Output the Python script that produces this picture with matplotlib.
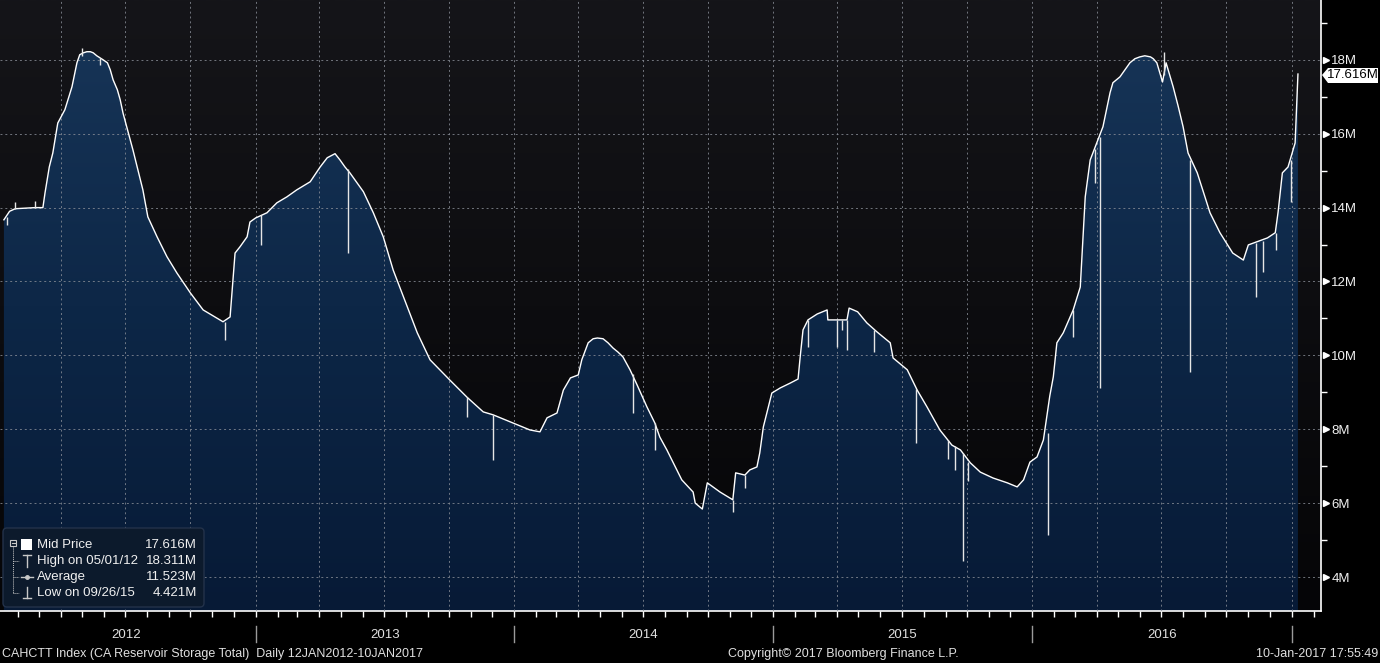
import matplotlib
matplotlib.use("Agg")
import matplotlib.pyplot as plt
import matplotlib.dates as mdates
import matplotlib.transforms as mtransforms
from matplotlib.colors import LinearSegmentedColormap
from matplotlib.patches import FancyBboxPatch, Polygon, Rectangle
from matplotlib.ticker import MultipleLocator, FuncFormatter
import numpy as np
import pandas as pd

# CA reservoir storage total (millions)
dates = [
    "2012-01-12", "2012-01-20", "2012-01-28", "2012-02-25", "2012-03-07", "2012-03-10",
    "2012-03-16", "2012-03-21", "2012-03-28", "2012-04-07", "2012-04-17", "2012-04-21",
    "2012-04-24", "2012-04-28", "2012-05-03", "2012-05-08", "2012-05-13", "2012-05-17",
    "2012-05-22", "2012-05-31", "2012-06-06", "2012-06-10", "2012-06-14", "2012-06-20",
    "2012-06-24", "2012-06-28", "2012-07-12", "2012-07-26", "2012-08-02", "2012-08-15",
    "2012-08-29", "2012-09-12", "2012-10-01", "2012-10-19", "2012-11-02", "2012-11-16",
    "2012-11-26", "2012-11-29", "2012-12-03", "2012-12-10", "2012-12-20", "2012-12-24",
    "2013-01-01", "2013-01-17", "2013-01-31", "2013-02-14", "2013-02-28", "2013-03-19",
    "2013-04-02", "2013-04-12", "2013-04-20", "2013-04-23", "2013-04-30", "2013-05-07",
    "2013-05-14", "2013-05-24", "2013-06-02", "2013-06-16", "2013-06-30", "2013-07-14",
    "2013-08-03", "2013-08-17", "2013-09-04", "2013-10-02", "2013-10-26", "2013-11-18",
    "2013-12-02", "2013-12-30", "2014-01-23", "2014-02-06", "2014-02-16", "2014-03-02",
    "2014-03-11", "2014-03-21", "2014-04-01", "2014-04-06", "2014-04-15", "2014-04-22",
    "2014-04-28", "2014-05-06", "2014-05-13", "2014-05-20", "2014-05-27", "2014-06-03",
    "2014-06-13", "2014-06-23", "2014-07-07", "2014-07-18", "2014-07-25", "2014-08-04",
    "2014-08-25", "2014-09-10", "2014-09-13", "2014-09-23", "2014-09-30", "2014-10-18",
    "2014-11-05", "2014-11-09", "2014-11-22", "2014-11-29", "2014-12-09", "2014-12-13",
    "2014-12-18", "2014-12-23", "2014-12-30", "2015-01-11", "2015-01-25", "2015-02-05",
    "2015-02-08", "2015-02-12", "2015-02-19", "2015-03-04", "2015-03-18", "2015-03-19",
    "2015-04-15", "2015-04-18", "2015-04-30", "2015-05-13", "2015-05-27", "2015-06-15",
    "2015-06-19", "2015-07-09", "2015-07-23", "2015-08-06", "2015-08-24", "2015-09-10",
    "2015-09-22", "2015-10-06", "2015-10-20", "2015-11-07", "2015-11-27", "2015-12-11",
    "2015-12-20", "2015-12-29", "2016-01-08", "2016-01-17", "2016-01-26", "2016-01-31",
    "2016-02-05", "2016-02-14", "2016-02-28", "2016-03-09", "2016-03-16", "2016-03-23",
    "2016-04-10", "2016-04-20", "2016-04-24", "2016-05-04", "2016-05-11", "2016-05-18",
    "2016-05-25", "2016-06-01", "2016-06-08", "2016-06-16", "2016-06-20", "2016-06-25",
    "2016-07-03", "2016-07-08", "2016-07-18", "2016-07-25", "2016-08-01", "2016-08-08",
    "2016-08-21", "2016-09-08", "2016-09-22", "2016-10-10", "2016-10-25", "2016-11-01",
    "2016-11-08", "2016-11-28", "2016-12-09", "2016-12-13", "2016-12-19", "2016-12-27",
    "2017-01-06", "2017-01-10",
]
values = [
    13.67, 13.90, 13.97, 14.00, 14.00, 14.40,
    15.10, 15.48, 16.29, 16.65, 17.27, 17.65,
    17.92, 18.14, 18.19, 18.22, 18.22, 18.19,
    18.11, 18.00, 17.92, 17.73, 17.46, 17.19,
    16.92, 16.56, 15.56, 14.48, 13.75, 13.21,
    12.67, 12.23, 11.69, 11.23, 11.07, 10.91,
    11.04, 11.77, 12.77, 12.94, 13.21, 13.61,
    13.72, 13.86, 14.13, 14.29, 14.48, 14.70,
    15.10, 15.35, 15.43, 15.46, 15.29, 15.10,
    14.94, 14.67, 14.43, 13.86, 13.21, 12.31,
    11.31, 10.61, 9.88, 9.33, 8.87, 8.47,
    8.39, 8.17, 7.98, 7.93, 8.31, 8.44,
    9.06, 9.39, 9.47, 9.88, 10.34, 10.45,
    10.47, 10.45, 10.34, 10.20, 10.09, 9.96,
    9.61, 9.20, 8.60, 8.17, 7.79, 7.44,
    6.63, 6.30, 6.00, 5.84, 6.55, 6.30,
    6.09, 6.82, 6.76, 6.90, 6.98, 7.36,
    8.06, 8.44, 8.98, 9.12, 9.25, 9.36,
    9.96, 10.69, 10.96, 11.12, 11.23, 10.96,
    10.96, 11.28, 11.18, 10.88, 10.64, 10.34,
    9.93, 9.61, 9.06, 8.60, 7.98, 7.57,
    7.44, 7.09, 6.84, 6.68, 6.55, 6.44,
    6.63, 7.11, 7.25, 7.71, 8.90, 9.42,
    10.34, 10.61, 11.23, 11.85, 14.29, 15.29,
    16.19, 17.11, 17.38, 17.54, 17.73, 17.92,
    18.03, 18.08, 18.11, 18.08, 18.03, 17.92,
    17.40, 17.92, 17.27, 16.75, 16.19, 15.48,
    14.94, 13.86, 13.32, 12.77, 12.58, 12.99,
    13.04, 13.18, 13.32, 13.88, 14.94, 15.10,
    15.75, 17.616,
]

# one-day spikes: date, level of the curve, level the spike reaches
spike_dates = [
    "2012-01-16", "2012-01-28", "2012-02-25", "2012-05-01", "2012-05-27", "2012-11-19",
    "2013-01-09", "2013-05-11", "2013-10-26", "2013-12-02", "2014-06-17", "2014-07-18",
    "2014-11-05", "2014-11-22", "2015-02-19", "2015-04-01", "2015-04-08", "2015-04-15",
    "2015-05-23", "2015-07-21", "2015-09-05", "2015-09-14", "2015-09-26", "2015-10-02",
    "2016-01-24", "2016-02-28", "2016-03-30", "2016-04-06", "2016-07-05", "2016-08-11",
    "2016-11-12", "2016-11-21", "2016-12-10", "2016-12-31",
]
spike_base = [
    13.75, 13.97, 14.00, 18.10, 18.05, 10.91,
    13.80, 15.05, 8.87, 8.39, 9.50, 8.17,
    6.09, 6.76, 10.96, 10.96, 10.96, 10.96,
    10.70, 9.10, 7.70, 7.55, 7.35, 7.10,
    7.90, 11.23, 15.60, 15.90, 17.60, 15.30,
    13.04, 13.10, 13.32, 15.30,
]
spike_vals = [
    13.53, 14.15, 14.17, 18.311, 17.86, 10.42,
    12.99, 12.77, 8.33, 7.17, 8.44, 7.44,
    5.76, 6.41, 10.23, 10.23, 10.69, 10.15,
    10.09, 7.63, 7.20, 6.90, 4.421, 6.60,
    5.14, 10.50, 14.67, 9.12, 18.22, 9.55,
    11.58, 12.26, 12.86, 14.15,
]

years = ["2012", "2013", "2014", "2015", "2016"]
legend_labels = ["Mid Price", "High on 05/01/12", "Average", "Low on 09/26/15"]
legend_values = ["17.616M", "18.311M", "11.523M", "4.421M"]
last_value = "17.616M"

plt.rcParams['font.family'] = ['Liberation Sans', 'DejaVu Sans']

W, H = 1380, 663
fig = plt.figure(figsize=(W / 100, H / 100), dpi=100, facecolor='black')
ax = fig.add_axes([0, (H - 611) / H, 1321 / W, 611 / H])
ax.set_facecolor('black')

# pixel coordinates of the picture (y down) -> display
pix = mtransforms.Affine2D().scale(1 / 100, -1 / 100).translate(0, H / 100) + fig.dpi_scale_trans

x = mdates.date2num(pd.to_datetime(dates))
xs = mdates.date2num(pd.to_datetime(spike_dates))
y = np.array(values)

x0 = mdates.date2num(pd.Timestamp("2012-01-06 12:00"))
x1 = mdates.date2num(pd.Timestamp("2017-02-11 12:00"))
y0, y1 = 3.08, 19.62

# dark background gradient
bg = LinearSegmentedColormap.from_list('bg', ['#050507', '#151519'])
ax.imshow(np.linspace(0, 1, 256).reshape(-1, 1), extent=[x0, x1, y0, y1], origin='lower',
          aspect='auto', cmap=bg, zorder=0)

# blue gradient area below the curve
poly = ax.fill_between(x, y, y0, color='none', lw=0)
blue = LinearSegmentedColormap.from_list('blue', ['#071a36', '#0d2747', '#183659'])
img = ax.imshow(np.linspace(0, 1, 256).reshape(-1, 1), extent=[x0, x1, y0, y1], origin='lower',
                aspect='auto', cmap=blue, zorder=1)
img.set_clip_path(poly.get_paths()[0], ax.transData)

ax.plot(x, y, color='white', lw=1.0, zorder=4)
ax.vlines(xs, spike_base, spike_vals, color='#e6e6e6', lw=1.0, zorder=4)

ax.set_xlim(x0, x1)
ax.set_ylim(y0, y1)

# grid
ax.xaxis.set_major_locator(mdates.MonthLocator(bymonth=[1, 4, 7, 10]))
ax.xaxis.set_minor_locator(mdates.MonthLocator())
ax.xaxis.set_major_formatter(plt.NullFormatter())
ax.yaxis.set_major_locator(MultipleLocator(2))
ax.yaxis.set_minor_locator(MultipleLocator(1))
ax.yaxis.set_major_formatter(FuncFormatter(lambda v, p: f"{v:.0f}M"))
ax.set_axisbelow(False)
ax.grid(True, which='major', color='#8a8f98', lw=0.7, ls=(0, (2, 3)), alpha=0.8, zorder=2)

# spines and ticks
for s in ['left', 'top']:
    ax.spines[s].set_visible(False)
for s in ['right', 'bottom']:
    ax.spines[s].set_color('white')
    ax.spines[s].set_linewidth(1.2)
ax.yaxis.tick_right()
ax.tick_params(axis='y', which='major', length=0, pad=7.5, labelsize=9.5, labelcolor='#f0f0f0')
ax.tick_params(axis='y', which='minor', length=4, width=1, color='white', direction='out')
ax.tick_params(axis='x', which='both', length=4, width=1, color='white', direction='out')

# arrowheads in front of the y labels
yt = np.arange(4, 19, 2)
ax.plot(np.full(len(yt), 1.0035), yt, ls='none', marker='>', ms=5, color='white',
        transform=ax.get_yaxis_transform(), clip_on=False)

# year labels and separators
xa = ax.get_xaxis_transform()
for yr in years:
    mid = mdates.date2num(pd.Timestamp(f"{yr}-07-02"))
    ax.text(mid, -0.040, yr, transform=xa, ha='center', va='center', fontsize=9.5,
            color='#e0e0e0')
    sep = mdates.date2num(pd.Timestamp(f"{int(yr) + 1}-01-01"))
    ax.plot([sep, sep], [-0.024, -0.051], transform=xa, color='#9a9a9a', lw=1, clip_on=False)

# last price tag
tag = Polygon([(1322, 75), (1328, 68), (1378, 68), (1378, 83), (1328, 83)], closed=True,
              transform=pix, facecolor='white', edgecolor='none')
fig.patches.append(tag)
fig.text(1353 / W, 1 - 75.5 / H, last_value, ha='center', va='center', fontsize=9.5, color='black')

# footer
fig.text(2 / W, 1 - 654 / H, "CAHCTT Index (CA Reservoir Storage Total)  Daily 12JAN2012-10JAN2017",
         ha='left', va='center', fontsize=9, color='#e0e0e0')
fig.text(843 / W, 1 - 654 / H, "Copyright\u00a9 2017 Bloomberg Finance L.P.",
         ha='center', va='center', fontsize=9, color='#e0e0e0')
fig.text(1378 / W, 1 - 654 / H, "10-Jan-2017 17:55:49",
         ha='right', va='center', fontsize=9, color='#e0e0e0')

# legend box
box = FancyBboxPatch((3, 528), 201, 79, boxstyle='round,pad=0,rounding_size=4', transform=pix,
                     facecolor='#0c1a2c', edgecolor='#23324a', lw=1, zorder=5)
fig.patches.append(box)
rows = [545, 561, 577, 593]
lc = '#c8c8c8'
fig.patches.append(Rectangle((10, 540), 6, 6, transform=pix, fill=False, edgecolor=lc, lw=0.8, zorder=6))
fig.lines.append(plt.Line2D([11.5, 14.5], [543, 543], transform=pix, color=lc, lw=0.8, zorder=6))
fig.lines.append(plt.Line2D([13, 13], [547, 593], transform=pix, color=lc, lw=0.7, ls=(0, (1, 1)), zorder=6))
for r in rows[1:]:
    fig.lines.append(plt.Line2D([13, 19], [r, r], transform=pix, color=lc, lw=0.7, ls=(0, (1, 1)), zorder=6))
fig.patches.append(Rectangle((21, 539), 11, 11, transform=pix, facecolor='white', edgecolor='none', zorder=6))
# high marker
fig.lines.append(plt.Line2D([23, 31], [555, 555], transform=pix, color=lc, lw=1, zorder=6))
fig.lines.append(plt.Line2D([27, 27], [555, 567], transform=pix, color=lc, lw=1, zorder=6))
# average marker
fig.lines.append(plt.Line2D([21, 33], [577, 577], transform=pix, color=lc, lw=1, zorder=6))
fig.lines.append(plt.Line2D([27], [577], transform=pix, color=lc, marker='o', ms=2.5, zorder=6))
# low marker
fig.lines.append(plt.Line2D([27, 27], [587, 598], transform=pix, color=lc, lw=1, zorder=6))
fig.lines.append(plt.Line2D([23, 31], [598, 598], transform=pix, color=lc, lw=1, zorder=6))
for r, lab, val in zip(rows, legend_labels, legend_values):
    fig.text(37 / W, 1 - r / H, lab, ha='left', va='center', fontsize=9.5, color='#f0f0f0', zorder=7)
    fig.text(197 / W, 1 - r / H, val, ha='right', va='center', fontsize=9.5, color='#f0f0f0', zorder=7)

fig.savefig("out.png", dpi=100, facecolor='black')
